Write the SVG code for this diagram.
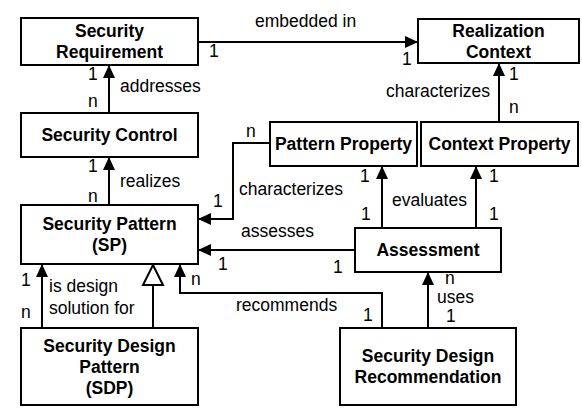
<svg xmlns="http://www.w3.org/2000/svg" width="582" height="410" viewBox="0 0 582 410">
<defs>
<marker id="arr" markerUnits="userSpaceOnUse" markerWidth="13" markerHeight="12" refX="13" refY="6" orient="auto">
<path d="M0,0 L13,6 L0,12 z" fill="#000"/>
</marker>
<style>
rect{fill:#fff;stroke:#000;stroke-width:2}
.n{font-family:"Liberation Sans",Arial,sans-serif;font-size:17.5px;font-weight:bold;text-anchor:middle;fill:#000}
.l{font-family:"Liberation Sans",Arial,sans-serif;font-size:17.5px;fill:#000}
.c{fill:none;stroke:#000;stroke-width:2}
</style>
</defs>
<rect x="0" y="0" width="582" height="410" style="stroke:none"/>
<g id="connectors">
<path class="c" d="M198,42 H418" marker-end="url(#arr)"/>
<path class="c" d="M109,113 V65" marker-end="url(#arr)"/>
<path class="c" d="M109,205 V157" marker-end="url(#arr)"/>
<path class="c" d="M499,122 V63" marker-end="url(#arr)"/>
<path class="c" d="M270,143 H233 V219 H198" marker-end="url(#arr)"/>
<path class="c" d="M355,250 H198" marker-end="url(#arr)"/>
<path class="c" d="M382,228 V166" marker-end="url(#arr)"/>
<path class="c" d="M476,228 V166" marker-end="url(#arr)"/>
<path class="c" d="M42,328 V264" marker-end="url(#arr)"/>
<path class="c" d="M153,328 V285"/>
<path d="M153,265 L163,285 H143 z" fill="#fff" stroke="#000" stroke-width="2"/>
<path class="c" d="M382,328 V293 H180 V264" marker-end="url(#arr)"/>
<path class="c" d="M428,328 V272" marker-end="url(#arr)"/>
</g>
<g id="labels">
<text class="l" x="255" y="27">embedded in</text>
<text class="l" x="209" y="57">1</text>
<text class="l" x="402" y="65">1</text>
<text class="l" x="120" y="92">addresses</text>
<text class="l" x="88" y="80">1</text>
<text class="l" x="88" y="107">n</text>
<text class="l" x="120" y="187">realizes</text>
<text class="l" x="88" y="172">1</text>
<text class="l" x="88" y="202">n</text>
<text class="l" x="386" y="97">characterizes</text>
<text class="l" x="509" y="80">1</text>
<text class="l" x="509" y="113">n</text>
<text class="l" x="246" y="137">n</text>
<text class="l" x="239" y="195">characterizes</text>
<text class="l" x="213" y="207">1</text>
<text class="l" x="360" y="182">1</text>
<text class="l" x="489" y="182">1</text>
<text class="l" x="392" y="206">evaluates</text>
<text class="l" x="361" y="220">1</text>
<text class="l" x="489" y="220">1</text>
<text class="l" x="241" y="237">assesses</text>
<text class="l" x="218" y="270">1</text>
<text class="l" x="333" y="273">1</text>
<text class="l" x="49" y="292">is design</text>
<text class="l" x="49" y="314">solution for</text>
<text class="l" x="21" y="286">1</text>
<text class="l" x="21" y="318">n</text>
<text class="l" x="191" y="285">n</text>
<text class="l" x="236" y="311">recommends</text>
<text class="l" x="363" y="321">1</text>
<text class="l" x="445" y="284">n</text>
<text class="l" x="437" y="303">uses</text>
<text class="l" x="446" y="322">1</text>
</g>
<g id="security-requirement">
<rect x="21" y="18" width="177" height="47"/>
<text class="n" x="109.5" y="37">Security</text>
<text class="n" x="109.5" y="58">Requirement</text>
</g>
<g id="realization-context">
<rect x="418" y="19" width="161" height="44"/>
<text class="n" x="498.5" y="37">Realization</text>
<text class="n" x="498.5" y="58">Context</text>
</g>
<g id="security-control">
<rect x="21" y="113" width="177" height="44"/>
<text class="n" x="109.5" y="141">Security Control</text>
</g>
<g id="pattern-property">
<rect x="270" y="122" width="147" height="44"/>
<text class="n" x="343.5" y="150">Pattern Property</text>
</g>
<g id="context-property">
<rect x="421" y="122" width="157" height="44"/>
<text class="n" x="499.5" y="150">Context Property</text>
</g>
<g id="security-pattern">
<rect x="21" y="205" width="177" height="59"/>
<text class="n" x="109.5" y="230">Security Pattern</text>
<text class="n" x="109.5" y="251">(SP)</text>
</g>
<g id="assessment">
<rect x="355" y="228" width="146" height="44"/>
<text class="n" x="428" y="256">Assessment</text>
</g>
<g id="security-design-pattern">
<rect x="21" y="328" width="177" height="77"/>
<text class="n" x="109.5" y="352">Security Design</text>
<text class="n" x="109.5" y="373">Pattern</text>
<text class="n" x="109.5" y="394">(SDP)</text>
</g>
<g id="security-design-recommendation">
<rect x="340" y="328" width="176" height="77"/>
<text class="n" x="428" y="362">Security Design</text>
<text class="n" x="428" y="383">Recommendation</text>
</g>
</svg>
